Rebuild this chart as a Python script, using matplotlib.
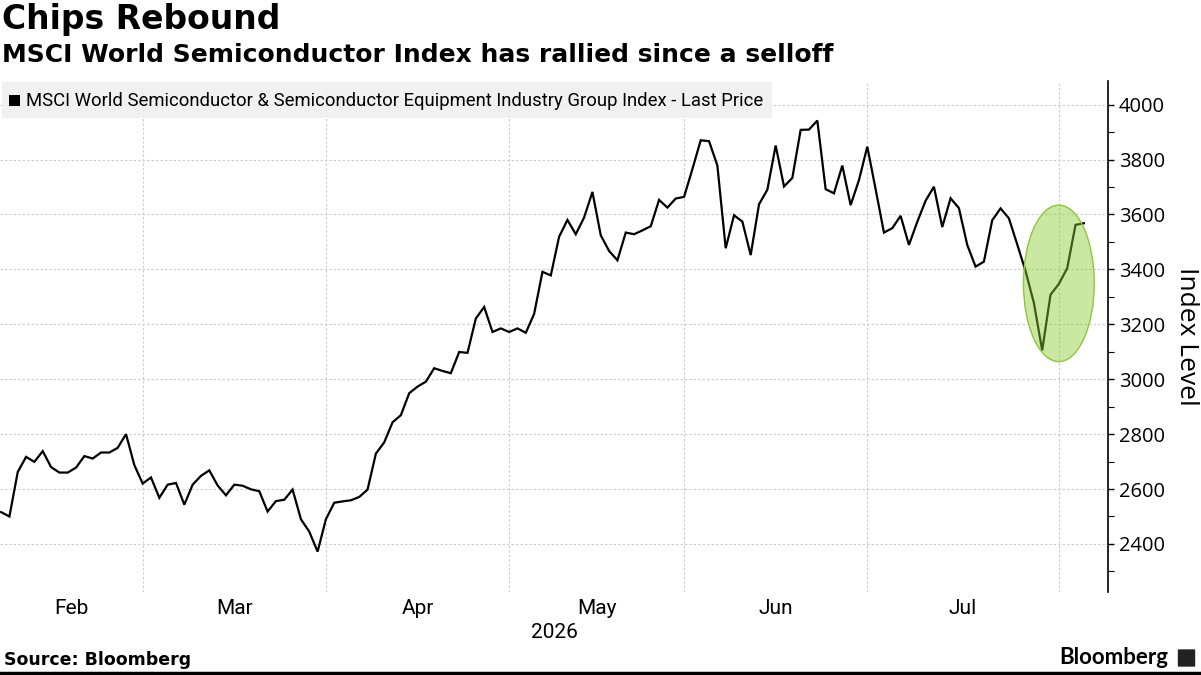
#!/usr/bin/env python
# -*- coding: utf-8 -*-

"""
Chips Rebound: MSCI World Semiconductor index, daily closes (business days).
"""

import matplotlib

matplotlib.use("Agg")

import matplotlib.pyplot as plt
import matplotlib.patches as mpatches
import numpy as np
import pandas as pd

# daily values, one per business day from 2026-02-05
start_date = "2026-02-05"
end_date = "2026-08-06"
index_level = [
    2516, 2500, 2662, 2717, 2699, 2738, 2680, 2660, 2660, 2678,
    2720, 2711, 2733, 2733, 2750, 2800, 2687, 2620, 2642, 2568,
    2616, 2622, 2543, 2616, 2648, 2668, 2613, 2577, 2616, 2612,
    2599, 2592, 2518, 2556, 2561, 2598, 2490, 2445, 2372, 2490,
    2550, 2555, 2559, 2571, 2598, 2729, 2770, 2843, 2869, 2949,
    2973, 2991, 3040, 3030, 3022, 3099, 3096, 3221, 3263, 3172,
    3185, 3172, 3185, 3169, 3238, 3391, 3378, 3519, 3580, 3528,
    3589, 3682, 3524, 3467, 3433, 3534, 3528, 3542, 3557, 3653,
    3625, 3658, 3664, 3765, 3870, 3867, 3778, 3477, 3597, 3574,
    3452, 3637, 3690, 3851, 3702, 3733, 3908, 3909, 3942, 3692,
    3677, 3778, 3634, 3725, 3847, 3692, 3534, 3550, 3595, 3489,
    3573, 3650, 3701, 3554, 3659, 3623, 3489, 3410, 3428, 3579,
    3622, 3586, 3491, 3394, 3278, 3105, 3308, 3347, 3404, 3562,
    3568,
]
y_ticks = [2400, 2600, 2800, 3000, 3200, 3400, 3600, 3800, 4000]

title = "Chips Rebound"
subtitle = "MSCI World Semiconductor Index has rallied since a selloff"
series_name = ("MSCI World Semiconductor & Semiconductor Equipment "
               "Industry Group Index - Last Price")
source = "Source: Bloomberg"

NARROW = ["Roboto", "DejaVu Sans"]
HUMAN = ["Open Sans", "DejaVu Sans"]
GRID = "#c9c9c9"


def main():
    dates = pd.bdate_range(start_date, end_date)
    x = np.arange(len(dates))
    y = np.array(index_level)

    fig = plt.figure(figsize=(12.01, 6.75), dpi=100)
    ax = fig.add_axes([0.0, 1 - 592 / 675, 1108 / 1201, (592 - 81) / 675])

    # the price line, highlighted rebound under a translucent ellipse
    ax.plot(x, y, color="black", lw=1.6, zorder=3, solid_joinstyle="miter")
    ell = mpatches.Ellipse((x[-4], 3349), 8.5, 570,
                           facecolor=(0.55, 0.80, 0.20, 0.45),
                           edgecolor="#8cc63f", lw=1.0, zorder=4)
    ax.add_patch(ell)

    ax.set_xlim(-0.13, 132.9)
    ax.set_ylim(2225, 4086)

    # month starts as minor ticks (grid), month labels centred in between
    month_start = [i for i in range(1, len(dates))
                   if dates[i].month != dates[i - 1].month]
    edges = [ax.get_xlim()[0]] + month_start
    centers = [(a + b) / 2 for a, b in zip(edges[:-1], edges[1:])]
    labels = [dates[int(np.ceil(c))].strftime("%b") for c in centers]
    ax.set_xticks(month_start, minor=True)
    ax.set_xticks(centers)
    ax.set_xticklabels(labels, family=NARROW, fontsize=15)
    ax.tick_params(axis="x", which="both", length=0, pad=5)
    ax.grid(axis="x", which="minor", color=GRID, lw=0.8, ls=(0, (2, 2)))

    # value axis on the right
    ax.yaxis.tick_right()
    ax.set_yticks(y_ticks)
    ax.set_yticks(np.arange(2300, 4100, 100), minor=True)
    ax.set_yticklabels([str(v) for v in y_ticks], family=HUMAN, fontsize=14.5)
    ax.tick_params(axis="y", which="major", direction="out", length=4,
                   width=1, pad=4, right=True, left=False)
    ax.tick_params(axis="y", which="minor", direction="out", length=4,
                   width=0.8, right=True, left=False)
    ax.grid(axis="y", which="major", color=GRID, lw=0.8, ls=(0, (2, 2)))
    ax.yaxis.set_label_position("right")
    ax.set_ylabel("Index Level", family=HUMAN, fontsize=19, rotation=270,
                  va="bottom", labelpad=6)

    for side in ("left", "top", "bottom"):
        ax.spines[side].set_visible(False)
    ax.spines["right"].set_linewidth(1.2)
    ax.set_axisbelow(True)

    ax.text(0.5, -0.08, "2026", transform=ax.transAxes, ha="center",
            va="center", family=NARROW, fontsize=15)

    # legend box
    ax.add_patch(mpatches.Rectangle((2 / 1108, 1 - 37 / 511), 770 / 1108,
                                    36 / 511, transform=ax.transAxes,
                                    facecolor="#efefef", alpha=0.85,
                                    edgecolor="none", zorder=5))
    ax.add_patch(mpatches.Rectangle((9 / 1108, 1 - 25 / 511), 11 / 1108,
                                    11 / 511, transform=ax.transAxes,
                                    facecolor="black", zorder=6))
    ax.text(26 / 1108, 1 - 19.5 / 511, series_name, transform=ax.transAxes,
            ha="left", va="center", family=NARROW, fontsize=13.3, zorder=6)

    # titles and footer
    fig.text(2 / 1201, 1 - 3 / 675, title, ha="left", va="top",
             fontsize=23.8, fontweight="bold")
    fig.text(2 / 1201, 1 - 43 / 675, subtitle, ha="left", va="top",
             fontsize=18, fontweight="bold")
    fig.text(4 / 1201, 1 - 660 / 675, source, ha="left", va="center",
             fontsize=12.5, fontweight="bold")
    fig.text(1168 / 1201, 1 - 658 / 675, "Bloomberg", ha="right",
             va="center", family=["Lato", "DejaVu Sans"], fontsize=16,
             fontweight="bold")
    fig.patches.append(mpatches.FancyBboxPatch(
        (1179 / 1201, 1 - 666 / 675), 15 / 1201, 16 / 675,
        boxstyle="round,pad=0.001", transform=fig.transFigure,
        facecolor="#222222", edgecolor="none"))
    fig.add_artist(plt.Line2D([0, 1], [1 - 673 / 675] * 2, color="black",
                              lw=2.5, transform=fig.transFigure))

    plt.savefig("out.png", dpi=100)


if __name__ == "__main__":
    main()
